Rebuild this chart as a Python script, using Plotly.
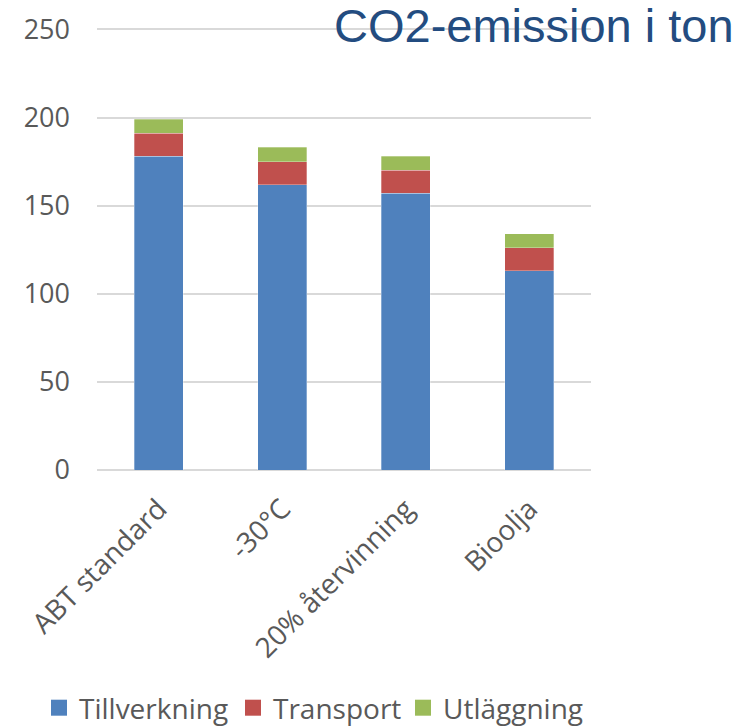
import plotly.graph_objects as go

categories = ["ABT standard", "-30°C", "20% återvinning", "Bioolja"]
tillverkning = [178, 162, 157, 113]
transport = [13, 13, 13, 13]
utlaggning = [8, 8, 8, 8]
series_names = ["Tillverkning", "Transport", "Utläggning"]
colors = ["#4F81BD", "#C0504D", "#9BBB59"]
y_ticks = [0, 50, 100, 150, 200, 250]

font_family = "Open Sans"
text_color = "#595959"

W, H = 756, 727
l, r, t, b = 97, 165, 28, 257
pw, ph = W - l - r, H - t - b

legend_keys = ["legend", "legend2", "legend3"]
legend_left_px = [39, 233, 403]

fig = go.Figure()
for name, vals, col in zip(series_names, [tillverkning, transport, utlaggning], colors):
    fig.add_trace(go.Bar(
        x=categories, y=vals, name=name, showlegend=False,
        marker=dict(color=col, line=dict(width=0.6, color="rgba(255,255,255,0.5)")),
    ))
# legend entries with larger square swatches, one legend per entry for spacing
for name, col, lk in zip(series_names, colors, legend_keys):
    fig.add_trace(go.Scatter(
        x=[None], y=[None], mode="markers", name=name, legend=lk,
        marker=dict(symbol="square", size=17, color=col),
    ))

legend_common = dict(
    orientation="h",
    xanchor="left",
    y=-(708 - (H - b)) / ph, yanchor="middle",
    font=dict(size=28, color=text_color, family=font_family),
    itemwidth=30,
    bgcolor="rgba(0,0,0,0)",
)
legends = {}
for lk, lx in zip(legend_keys, legend_left_px):
    legends[lk] = dict(legend_common, x=(lx - l) / pw)

fig.update_layout(
    width=W, height=H,
    barmode="stack",
    bargap=0.6,
    plot_bgcolor="white",
    paper_bgcolor="white",
    margin=dict(l=l, r=r, t=t, b=b, autoexpand=False),
    font=dict(family=font_family, color=text_color, size=27),
    showlegend=True,
    **legends,
    xaxis=dict(
        tickangle=-45,
        showgrid=False,
        showline=False,
        ticks="",
        ticklabelstandoff=16,
        tickfont=dict(size=28, color=text_color, family=font_family),
    ),
    yaxis=dict(
        range=[0, 250.8],
        tickvals=y_ticks,
        showgrid=True,
        gridcolor="#D9D9D9",
        gridwidth=1.5,
        zeroline=True,
        zerolinecolor="#D9D9D9",
        zerolinewidth=1.5,
        showline=False,
        ticks="",
        ticklabelstandoff=26,
        tickfont=dict(size=27, color=text_color, family=font_family),
    ),
    annotations=[dict(
        text="CO2-emission i ton",
        xref="paper", yref="paper",
        x=(736 - l) / pw, xanchor="right",
        y=1 + (t - 24.5) / ph,
        yanchor="middle",
        height=46,
        valign="middle",
        showarrow=False,
        font=dict(family="Liberation Sans", size=47, color="#234C80"),
    )],
)

fig.write_html("out.html")
